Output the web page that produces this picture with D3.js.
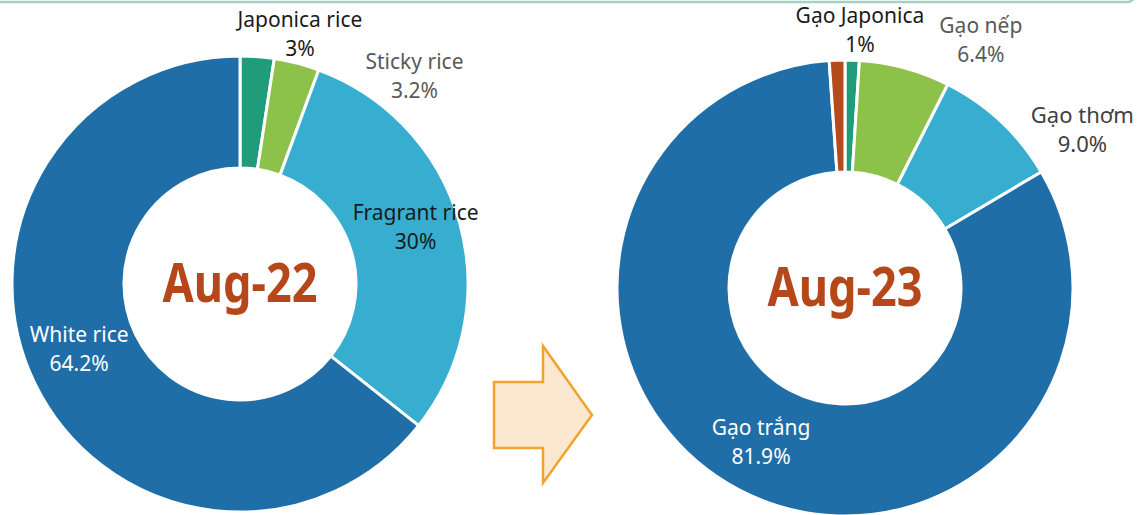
<!DOCTYPE html>
<html>
<head>
<meta charset="utf-8">
<script src="https://cdn.jsdelivr.net/npm/d3@7"></script>
<style>
    body { margin: 0; background: #fff; }
    svg { display: block; font-family: "Noto Sans", "Open Sans", sans-serif; }
</style>
</head>
<body>
<div id="rice-chart"></div>
<script>
// Aug-22 export structure (Japonica slice is drawn a bit under its rounded 3% label)
const catsAug22 = ["Japonica rice", "Sticky rice", "Fragrant rice", "White rice"];
const valsAug22 = [2.4, 3.2, 30, 64.2];
const labelsAug22 = ["3%", "3.2%", "30%", "64.2%"];

// Aug-23 export structure (last slice has no label)
const catsAug23 = ["Gạo Japonica", "Gạo nếp", "Gạo thơm", "Gạo trắng", "Khác"];
const valsAug23 = [1, 6.4, 9.0, 81.9, 1.1];
const labelsAug23 = ["1%", "6.4%", "9.0%", "81.9%", ""];

const titles = ["Aug-22", "Aug-23"];

const width = 1140,
    height = 515,
    outerR = 228,
    innerR = 116;

const colorOf = {
    "Japonica rice": "#1f9c7a", "Gạo Japonica": "#1f9c7a",
    "Sticky rice": "#8cc24a", "Gạo nếp": "#8cc24a",
    "Fragrant rice": "#37aecf", "Gạo thơm": "#37aecf",
    "White rice": "#1f6ea8", "Gạo trắng": "#1f6ea8",
    "Khác": "#b54a1a"
};

// label styling: inside = on the ring, otherwise outside; nudge in px
const labelStyle = {
    "Japonica rice": { inside: false, color: "#1a1a1a", size: 21, nudge: [41, 8] },
    "Sticky rice":   { inside: false, color: "#595959", size: 21, nudge: [112, 42] },
    "Fragrant rice": { inside: true,  color: "#1a1a1a", size: 21, nudge: [10, -2.5] },
    "White rice":    { inside: true,  color: "#ffffff", size: 21, nudge: [-6, -2] },
    "Gạo Japonica":  { inside: false, color: "#1a1a1a", size: 21, nudge: [7, 0] },
    "Gạo nếp":       { inside: false, color: "#595959", size: 21, nudge: [70, 2] },
    "Gạo thơm":      { inside: false, color: "#404040", size: 22, nudge: [66, 33] },
    "Gạo trắng":     { inside: true,  color: "#ffffff", size: 21, nudge: [-4, 9] }
};

const svg = d3.select("#rice-chart")
    .append("svg")
    .attr("width", width)
    .attr("height", height);

// frame edge of the box above
svg.append("rect")
    .attr("x", -10)
    .attr("y", -60)
    .attr("width", 1146)
    .attr("height", 62)
    .attr("rx", 9)
    .attr("fill", "none")
    .attr("stroke", "#9fd4c4")
    .attr("stroke-width", 2.5);

const pie = d3.pie().sort(null).value(d => d.value);
const arc = d3.arc().innerRadius(innerR).outerRadius(outerR);
const midArc = d3.arc().innerRadius((innerR + outerR) / 2).outerRadius((innerR + outerR) / 2);
const outArc = d3.arc().innerRadius(outerR * 1.1).outerRadius(outerR * 1.1);

function drawDonut(cats, vals, labels, title, cx, cy) {
    const data = cats.map((c, i) => ({ cat: c, value: vals[i], label: labels[i] }));
    const g = svg.append("g").attr("transform", "translate(" + cx + "," + cy + ")");
    const arcs = pie(data);

    g.selectAll("path")
        .data(arcs)
        .enter()
        .append("path")
        .attr("d", arc)
        .attr("fill", d => colorOf[d.data.cat])
        .attr("stroke", "#fff")
        .attr("stroke-width", 3)
        .attr("stroke-linejoin", "round");

    const lab = g.selectAll("text.lab")
        .data(arcs.filter(d => d.data.label !== ""))
        .enter()
        .append("text")
        .attr("class", "lab")
        .attr("text-anchor", "middle")
        .attr("font-size", d => labelStyle[d.data.cat].size)
        .attr("fill", d => labelStyle[d.data.cat].color)
        .attr("transform", d => {
            const s = labelStyle[d.data.cat];
            const p = (s.inside ? midArc : outArc).centroid(d);
            return "translate(" + (p[0] + s.nudge[0]) + "," + (p[1] + s.nudge[1]) + ")";
        });

    lab.append("tspan").attr("x", 0).attr("y", -14.5).text(d => d.data.cat);
    lab.append("tspan").attr("x", 0).attr("y", 14.5).text(d => d.data.label);

    g.append("text")
        .attr("text-anchor", "middle")
        .attr("y", 18)
        .attr("font-size", 54)
        .attr("font-weight", "bold")
        .attr("fill", "#b5471b")
        .attr("textLength", 155)
        .attr("lengthAdjust", "spacingAndGlyphs")
        .text(title);
}

drawDonut(catsAug22, valsAug22, labelsAug22, titles[0], 240, 284);
drawDonut(catsAug23, valsAug23, labelsAug23, titles[1], 845, 288);

// arrow between the two donuts
const arrowPts = [[494, 382], [543, 382], [543, 346], [592, 415], [543, 483], [543, 448], [494, 448]];
svg.append("path")
    .attr("d", d3.line()(arrowPts) + "Z")
    .attr("fill", "#fce8d1")
    .attr("stroke", "#f1a22f")
    .attr("stroke-width", 2.5)
    .attr("stroke-linejoin", "miter");
</script>
</body>
</html>
